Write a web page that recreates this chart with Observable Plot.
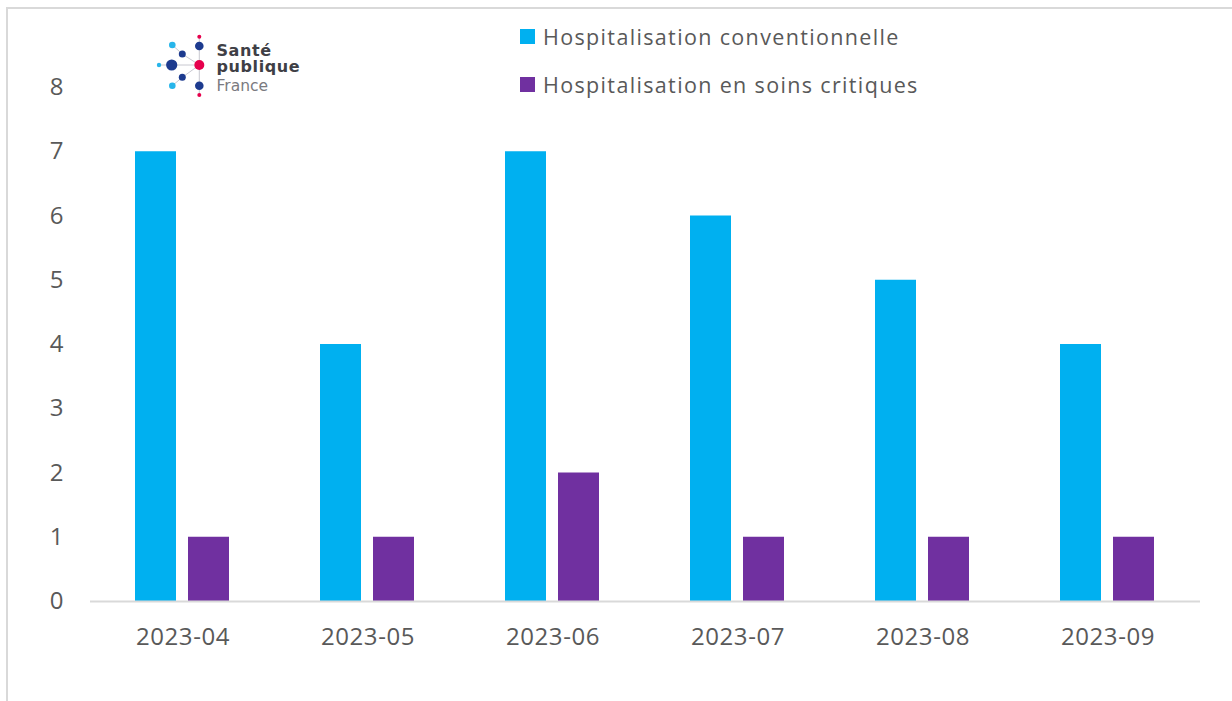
<!DOCTYPE html>
<html>
<head>
<meta charset="utf-8">
<script src="https://cdn.jsdelivr.net/npm/d3@7"></script>
<script src="https://cdn.jsdelivr.net/npm/@observablehq/plot@0.6"></script>
<style>
  html, body { margin: 0; padding: 0; background: #fff; }
  #wrap { position: relative; width: 1232px; height: 701px; overflow: hidden; font-family: "Open Sans", sans-serif; }
  #frame { position: absolute; left: 6px; top: 7px; width: 1240px; height: 720px; border-left: 2px solid #d9d9d9; border-top: 2px solid #d9d9d9; box-sizing: border-box; }
  #chart { position: absolute; left: 0; top: 0; }
  .leg { position: absolute; left: 520px; display: flex; align-items: center; font-size: 21.5px; letter-spacing: 1.35px; color: #595959; white-space: nowrap; }
  .leg .sw { width: 15px; height: 15px; margin-right: 8px; }
  #logo { position: absolute; left: 0; top: 0; }
</style>
</head>
<body>
<div id="wrap">
  <div id="frame"></div>
  <div id="chart"></div>
  <svg id="logo" width="320" height="110">
    <g stroke="#c8c8d0" stroke-width="1">
      <line x1="199.3" y1="36.7" x2="199.3" y2="95"/>
      <line x1="199.3" y1="65" x2="171.7" y2="65"/>
      <line x1="199.3" y1="65" x2="182.3" y2="54"/>
      <line x1="199.3" y1="65" x2="182.3" y2="77.3"/>
      <line x1="182.3" y1="54" x2="172.3" y2="45"/>
      <line x1="182.3" y1="77.3" x2="172.3" y2="85.7"/>
      <line x1="171.7" y1="65" x2="159" y2="65"/>
    </g>
    <circle cx="199.3" cy="36.7" r="2" fill="#e6004c"/>
    <circle cx="172.3" cy="45" r="3.3" fill="#27b5ea"/>
    <circle cx="199.3" cy="46" r="4.3" fill="#1d3b8f"/>
    <circle cx="182.3" cy="54" r="3.5" fill="#1d3b8f"/>
    <circle cx="159" cy="65" r="2.2" fill="#27b5ea"/>
    <circle cx="171.7" cy="65" r="5.6" fill="#1d3b8f"/>
    <circle cx="199.3" cy="65" r="5" fill="#e6004c"/>
    <circle cx="182.3" cy="77.3" r="3.5" fill="#1d3b8f"/>
    <circle cx="172.3" cy="85.7" r="3.3" fill="#27b5ea"/>
    <circle cx="199.3" cy="85.7" r="4.3" fill="#1d3b8f"/>
    <circle cx="199.3" cy="95" r="2" fill="#e6004c"/>
    <text x="216.5" y="56" font-family="DejaVu Sans, sans-serif" font-weight="700" font-size="16" letter-spacing="0.6" fill="#3f3f46">Santé</text>
    <text x="216.5" y="72" font-family="DejaVu Sans, sans-serif" font-weight="700" font-size="16" letter-spacing="0.6" fill="#3f3f46">publique</text>
    <text x="216.5" y="90.5" font-family="DejaVu Sans, sans-serif" font-weight="400" font-size="15.5" fill="#7a7a80">France</text>
  </svg>
  <div class="leg" style="top:22px"><div class="sw" style="background:#00B0F0"></div>Hospitalisation conventionnelle</div>
  <div class="leg" style="top:70px"><div class="sw" style="background:#7030A0"></div>Hospitalisation en soins critiques</div>
</div>
<script>
const months = ["2023-04", "2023-05", "2023-06", "2023-07", "2023-08", "2023-09"];
const series = ["Hospitalisation conventionnelle", "Hospitalisation en soins critiques"];
const conventionnelle = [7, 4, 7, 6, 5, 4];
const critiques = [1, 1, 2, 1, 1, 1];
const colors = ["#00B0F0", "#7030A0"];
const yTicks = [0, 1, 2, 3, 4, 5, 6, 7, 8];

const data = [];
months.forEach((m, i) => {
  data.push({month: m, series: series[0], value: conventionnelle[i]});
  data.push({month: m, series: series[1], value: critiques[i]});
});

const chart = Plot.plot({
  width: 1232,
  height: 701,
  marginLeft: 89,
  marginRight: 32,
  marginTop: 87,
  marginBottom: 100,
  style: {fontFamily: "Open Sans, sans-serif", fontSize: "24px", color: "#595959", background: "transparent"},
  fx: {domain: months, padding: 0, label: null, tickSize: 0, tickPadding: 26, axis: "bottom"},
  x: {domain: series, axis: null, paddingInner: 0.22, paddingOuter: 0.83},
  y: {domain: [0, 8], ticks: yTicks, tickSize: 0, tickPadding: 27, label: null, tickFormat: d => String(d)},
  color: {domain: series, range: colors},
  marks: [
    Plot.barY(data, {fx: "month", x: "series", y: "value", fill: "series"}),
    Plot.ruleY([0], {stroke: "#d9d9d9", strokeWidth: 2})
  ]
});
chart.querySelectorAll("[aria-label='fx-axis tick label'] text").forEach(t => t.setAttribute("letter-spacing", "0.6"));
document.getElementById("chart").appendChild(chart);
</script>
</body>
</html>
